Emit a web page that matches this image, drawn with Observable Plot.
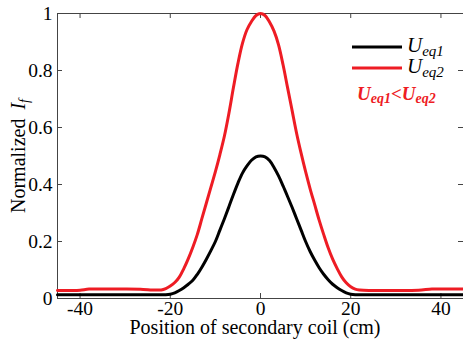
<!DOCTYPE html>
<html><head><meta charset="utf-8">
<script src="https://cdn.jsdelivr.net/npm/d3@7"></script>
<script src="https://cdn.jsdelivr.net/npm/@observablehq/plot@0.6"></script>
<style>
body{margin:0;background:#fff}
svg{display:block}
</style>
</head><body><div id="chart"></div>
<script>
const positions = [-45,-42,-40,-38,-35,-30,-26,-24,-22,-21,-20,-19,-18,-17,-16,-15,-14,-13,-12,-11,-10,-9,-8,-7,-6,-5,-4,-3,-2,-1,0,1,2,3,4,5,6,7,8,9,10,11,12,13,14,15,16,17,18,19,20,21,22,24,26,30,35,38,40,42,45];
const ueq1 = [.013,.013,.013,.013,.013,.013,.013,.013,.013,.013,.015,.02,.028,.038,.05,.064,.085,.11,.138,.168,.2,.24,.28,.322,.365,.405,.44,.465,.485,.497,.5,.497,.484,.46,.43,.395,.358,.32,.28,.24,.2,.165,.135,.108,.085,.066,.05,.038,.028,.02,.015,.013,.013,.013,.013,.013,.013,.013,.013,.013,.013];
const ueq2 = [.028,.028,.029,.033,.033,.033,.032,.03,.03,.035,.044,.056,.075,.105,.14,.18,.225,.28,.335,.39,.445,.505,.57,.65,.74,.825,.895,.943,.972,.993,1,.993,.97,.938,.89,.82,.74,.66,.58,.51,.445,.385,.33,.275,.225,.178,.138,.105,.076,.055,.041,.033,.03,.028,.028,.028,.029,.033,.033,.033,.033];
const xTicks = [-40,-20,0,20,40];
const yTicks = [0,0.2,0.4,0.6,0.8,1];
const yTickLabels = ["0","0.2","0.4","0.6","0.8","1"];
const seriesNames = ["eq1","eq2"];
const colors = ["#000000","#ee1c24"];

const W = 463, H = 341, mL = 57, mR = 0, mT = 13, mB = 43;
const iw = W - mL - mR, ih = H - mT - mB;
const rows = [];
positions.forEach((p,i)=>{ rows.push({x:p, y:ueq1[i], s:seriesNames[0]}); rows.push({x:p, y:ueq2[i], s:seriesNames[1]}); });
const fam = "Liberation Serif";

const plot = Plot.plot({
  width: W, height: H, marginLeft: mL, marginRight: mR, marginTop: mT, marginBottom: mB,
  style: {background: "white", color: "black"},
  x: {domain: [-45, 45]},
  y: {domain: [0, 1]},
  color: {domain: seriesNames, range: colors},
  marks: [
    Plot.ruleY([0, 1], {stroke: "#444", strokeWidth: 1}),
    Plot.ruleX([-45], {stroke: "#444", strokeWidth: 1}),
    Plot.tickX(xTicks, {x: d => d, stroke: "#444", insetTop: ih - 5}),
    Plot.tickX(xTicks, {x: d => d, stroke: "#444", insetBottom: ih - 5}),
    Plot.tickY(yTicks, {y: d => d, stroke: "#444", insetRight: iw - 5}),
    Plot.tickY(yTicks, {y: d => d, stroke: "#444", insetLeft: iw - 5}),
    Plot.axisX(xTicks, {tickSize: 0, tickPadding: 3, fontSize: 19.5, fontFamily: fam, label: null, tickFormat: d => String(d)}),
    Plot.axisY(yTicks, {tickSize: 0, tickPadding: 5, fontSize: 19.5, fontFamily: fam, label: null, tickFormat: d => yTickLabels[yTicks.indexOf(d)]}),
    Plot.line(rows, {x: "x", y: "y", z: "s", stroke: "s", strokeWidth: 3, curve: "catmull-rom"})
  ]
});
plot.setAttribute("font-family", fam);
document.getElementById("chart").appendChild(plot);

const svg = d3.select(plot);
function txt(sel) { return sel.attr("font-family", fam).attr("text-anchor", "start"); }
// x label
txt(svg.append("text")).attr("x", 255).attr("y", 334).attr("text-anchor", "middle")
  .attr("font-size", 20).attr("fill", "black")
  .text("Position of secondary coil (cm)");
// y label
const yl = txt(svg.append("text")).attr("transform", "translate(25,213) rotate(-90)")
  .attr("font-size", 20).attr("fill", "black");
yl.append("tspan").text("Normalized");
yl.append("tspan").attr("dx", 9).attr("font-style", "italic").text("I");
yl.append("tspan").attr("font-style", "italic").attr("font-size", 14).attr("dy", 4).text("f");

// legend
const leg = [{y: 47, c: colors[0], sub: seriesNames[0]}, {y: 68, c: colors[1], sub: seriesNames[1]}];
leg.forEach(l => {
  svg.append("line").attr("x1", 352).attr("x2", 402).attr("y1", l.y).attr("y2", l.y)
    .attr("stroke", l.c).attr("stroke-width", 3);
  const t = txt(svg.append("text")).attr("x", 407).attr("y", l.y + 5)
    .attr("font-size", 21).attr("font-style", "italic").attr("fill", "black");
  t.append("tspan").text("U");
  t.append("tspan").attr("font-size", 15).attr("dy", 4).text(l.sub);
});
const rt = txt(svg.append("text")).attr("x", 357).attr("y", 100)
  .attr("font-size", 19).attr("font-style", "italic").attr("font-weight", "bold").attr("fill", colors[1]);
rt.append("tspan").text("U");
rt.append("tspan").attr("font-size", 14).attr("dy", 3).text(seriesNames[0]);
rt.append("tspan").attr("dy", -3).text("<U");
rt.append("tspan").attr("font-size", 14).attr("dy", 3).text(seriesNames[1]);
</script></body></html>
